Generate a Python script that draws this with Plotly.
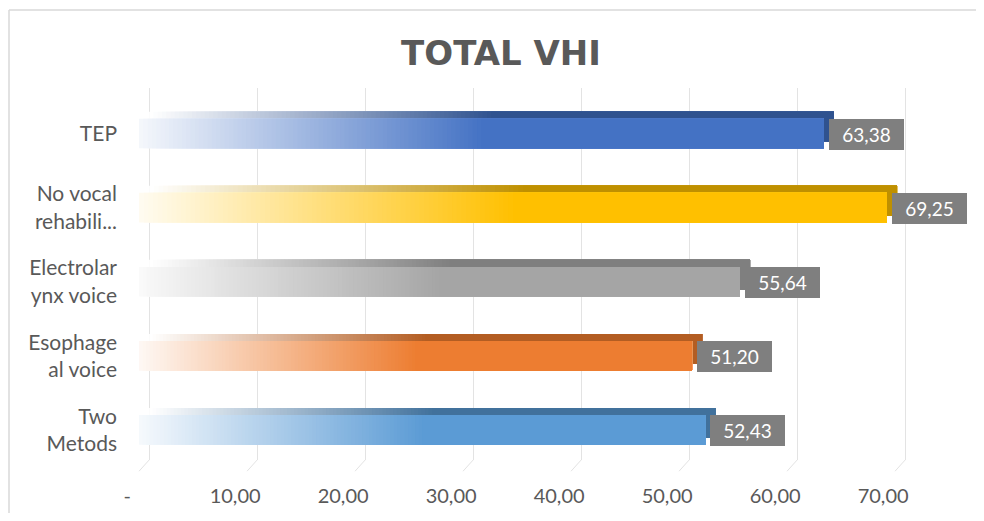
import plotly.graph_objects as go

# ---------------- data ----------------
categories = ["TEP", "No vocal rehabili...", "Electrolarynx voice", "Esophageal voice", "Two Metods"]
tick_text = ["TEP", "No vocal<br>rehabili...", "Electrolar<br>ynx voice", "Esophage<br>al voice", "Two<br>Metods"]
values = [63.38, 69.25, 55.64, 51.20, 52.43]
x_tickvals = [0, 10, 20, 30, 40, 50, 60, 70]
x_ticktext = ["-", "10,00", "20,00", "30,00", "40,00", "50,00", "60,00", "70,00"]
title_text = "TOTAL VHI"

# ---------------- style ----------------
front_colors = ["#4472C4", "#FFC000", "#A5A5A5", "#ED7D31", "#5B9BD5"]
top_colors = ["#2F528F", "#BF9000", "#7F7F7F", "#B35D22", "#41719C"]
OFF = 8                                # page body margin of the html output
W, H = 984 - 2 * OFF, 521 - 2 * OFF    # figure size so that the page does not overflow
ML, MR, MT, MB = 32, 4, 80, 53
DEPTH_X = 0.93      # 3D depth shift (data units)
DEPTH_Y = 0.095     # 3D depth shift (category units)
BAR_W = 0.4
N_STEPS = 80
GRAD_END = 0.5      # gradient reaches full colour at 50% of the bar
PX_PER_UNIT = 10.8


def hex_rgb(h):
    h = h.lstrip("#")
    return tuple(int(h[i:i + 2], 16) for i in (0, 2, 4))


def blend(hexcol, t):
    r, g, b = hex_rgb(hexcol)
    return "rgb(%d,%d,%d)" % (round(255 + (r - 255) * t), round(255 + (g - 255) * t), round(255 + (b - 255) * t))


fig = go.Figure()


def add_gradient_bar(colors, shift_x, offset, t0):
    for k in range(N_STEPS + 1):
        f = GRAD_END * k / N_STEPS
        t = t0 + (1 - t0) * (k / N_STEPS)
        fig.add_trace(go.Bar(
            y=categories,
            x=[v * (1 - f) for v in values],
            base=[v * f + shift_x for v in values],
            orientation="h",
            width=BAR_W,
            offset=offset,
            marker=dict(color=[blend(c, t) for c in colors], line=dict(width=0)),
            showlegend=False,
            hoverinfo="skip",
        ))


# top / back face (darker), shifted up
add_gradient_bar(top_colors, 0.0, -BAR_W / 2 - DEPTH_Y, 0.0)
# front face, shifted left
add_gradient_bar(front_colors, -DEPTH_X, -BAR_W / 2, 0.06)

# data labels: grey boxes
for cat, v in zip(categories, values):
    fig.add_annotation(
        x=v, y=cat, xref="x", yref="y",
        text=("%.2f" % v).replace(".", ","),
        showarrow=False, xanchor="left", yanchor="middle",
        xshift=-5, yshift=-1,
        bgcolor="#7F7F7F", borderpad=2, borderwidth=0,
        width=71, height=27,
        font=dict(family="Lato", size=19, color="white"),
    )

# gridline "feet" (floor of the 3D chart)
shapes = []
for t in x_tickvals:
    shapes.append(dict(type="line", xref="x", yref="paper",
                       x0=t, x1=t - DEPTH_X, y0=0, y1=-0.03,
                       line=dict(color="#E3E3E3", width=1)))

pw = W - ML - MR
ph = H - MT - MB


def px_x(page_x):   # page pixel -> paper fraction
    return (page_x - OFF - ML) / pw


def px_y(page_y):
    return (H - MB - (page_y - OFF)) / ph


# outer chart border (left and top edges visible in the crop)
shapes.append(dict(type="line", xref="paper", yref="paper",
                   x0=px_x(9), x1=px_x(9), y0=px_y(540), y1=px_y(10),
                   line=dict(color="#D9D9D9", width=1.5), layer="below"))
shapes.append(dict(type="line", xref="paper", yref="paper",
                   x0=px_x(9), x1=px_x(1000), y0=px_y(10), y1=px_y(10),
                   line=dict(color="#D9D9D9", width=1.5), layer="below"))

x_lo, x_hi = -1.4, 70.4
dom0 = px_x(134)
dom1 = dom0 + (x_hi - x_lo) * PX_PER_UNIT / pw

fig.update_layout(
    width=W, height=H,
    margin=dict(l=ML, r=MR, t=MT, b=MB),
    paper_bgcolor="white", plot_bgcolor="white",
    barmode="overlay",
    title=dict(text="<b>%s</b>" % title_text, x=px_x(501), xref="paper", xanchor="center",
               y=1 - (53 - OFF) / H, yref="container", yanchor="middle",
               font=dict(family="DejaVu Sans", size=34, color="#595959")),
    xaxis=dict(range=[x_lo, x_hi], domain=[dom0, min(dom1, 1)], automargin=False,
               tickmode="array", tickvals=x_tickvals, ticktext=x_ticktext,
               showgrid=True, gridcolor="#E3E3E3", gridwidth=1,
               zeroline=True, zerolinecolor="#E3E3E3", zerolinewidth=1,
               showline=False, ticks="",
               ticklabelshift=-22, ticklabelstandoff=22,
               tickfont=dict(family="Lato", size=20, color="#595959")),
    yaxis=dict(type="category", categoryorder="array", categoryarray=categories,
               range=[4.406, -0.614], automargin=False,
               tickmode="array", tickvals=categories, ticktext=tick_text,
               showgrid=False, zeroline=False, showline=False, ticks="",
               ticklabelstandoff=16,
               tickfont=dict(family="Lato", size=21, color="#595959")),
    shapes=shapes,
)

fig.write_html("out.html")
